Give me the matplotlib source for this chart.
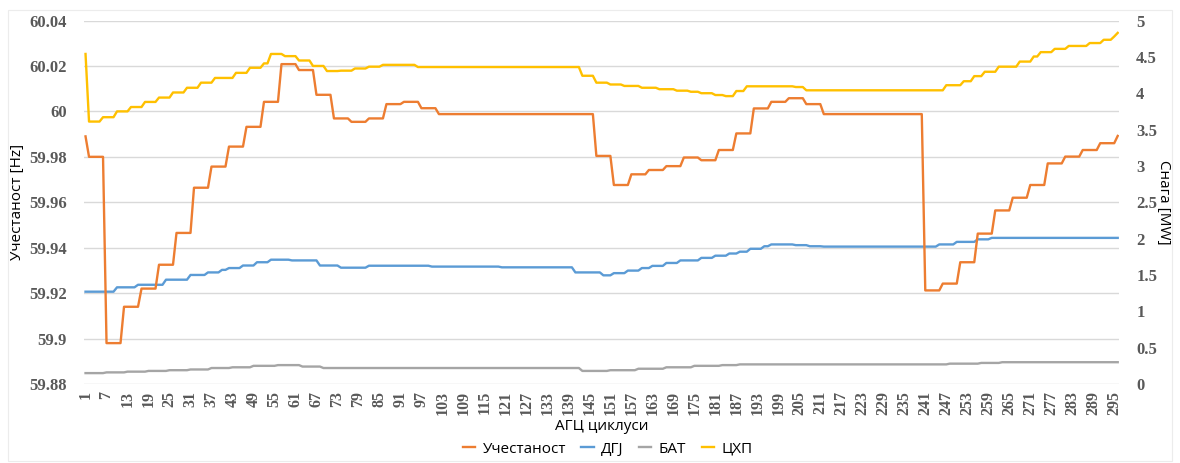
import numpy as np
import matplotlib.pyplot as plt
from matplotlib.patches import Rectangle

n_cycles = 296
cycles = np.arange(1, n_cycles + 1)

# step levels: cycle where a level starts + the level
freq_start = [1, 2, 7, 12, 17, 22, 27, 32, 37, 42, 47, 52, 57, 62, 67, 72, 77, 82,
              87, 92, 97, 102, 147, 152, 157, 162, 167, 172, 177, 182, 187, 192,
              197, 202, 207, 212, 241, 246, 251, 256, 261, 266, 271, 276, 281,
              286, 291, 296]
freq_level = [59.989, 59.980, 59.898, 59.914, 59.922, 59.9325, 59.9465, 59.9664,
              59.9757, 59.9845, 59.9932, 60.0042, 60.0208, 60.0182, 60.0073,
              59.9969, 59.9954, 59.9969, 60.0032, 60.0042, 60.0014, 59.9988,
              59.9804, 59.9676, 59.9723, 59.9742, 59.9759, 59.9797, 59.9785,
              59.983, 59.9903, 60.0013, 60.0042, 60.0058, 60.0032, 59.9988,
              59.9212, 59.9242, 59.9336, 59.9462, 59.9564, 59.962, 59.9676,
              59.9771, 59.9801, 59.983, 59.986, 59.9892]

dgj_start = [1, 10, 16, 24, 31, 36, 40, 42, 46, 50, 54, 60, 68, 74, 82, 100, 120,
             141, 149, 152, 156, 160, 163, 167, 171, 177, 181, 185, 188, 191, 195,
             197, 204, 208, 212, 245, 250, 256, 260]
dgj_level = [1.27, 1.33, 1.365, 1.435, 1.50, 1.535, 1.57, 1.595, 1.63, 1.675, 1.71,
             1.70, 1.63, 1.60, 1.627, 1.615, 1.605, 1.535, 1.495, 1.525, 1.56,
             1.595, 1.625, 1.665, 1.70, 1.735, 1.765, 1.795, 1.82, 1.86, 1.895,
             1.92, 1.91, 1.895, 1.89, 1.92, 1.955, 1.99, 2.01]

bat_start = [1, 7, 13, 19, 25, 31, 37, 43, 49, 56, 63, 69, 143, 151, 159, 167, 175,
             183, 188, 248, 257, 263]
bat_level = [0.15, 0.16, 0.17, 0.18, 0.19, 0.20, 0.22, 0.23, 0.25, 0.26, 0.24, 0.22,
             0.18, 0.19, 0.21, 0.23, 0.25, 0.26, 0.27, 0.28, 0.29, 0.30]

chp_start = [1, 2, 6, 10, 14, 18, 22, 26, 30, 34, 38, 44, 48, 52, 54, 58, 62, 66,
             70, 74, 78, 82, 86, 96, 143, 147, 151, 155, 160, 165, 170, 174, 177,
             181, 184, 187, 190, 204, 207, 247, 252, 255, 258, 262, 268, 272, 274,
             278, 282, 288, 292, 295, 296]
chp_level = [4.54, 3.61, 3.67, 3.75, 3.81, 3.88, 3.94, 4.01, 4.075, 4.145, 4.21,
             4.28, 4.35, 4.41, 4.54, 4.51, 4.45, 4.375, 4.305, 4.31, 4.34, 4.365,
             4.39, 4.36, 4.24, 4.145, 4.12, 4.10, 4.075, 4.055, 4.035, 4.02, 4.0,
             3.975, 3.96, 4.03, 4.095, 4.085, 4.04, 4.11, 4.165, 4.235, 4.295,
             4.365, 4.435, 4.505, 4.565, 4.61, 4.65, 4.69, 4.735, 4.78, 4.83]

left_ticks = [59.88, 59.9, 59.92, 59.94, 59.96, 59.98, 60, 60.02, 60.04]
left_labels = ['59.88', '59.9', '59.92', '59.94', '59.96', '59.98', '60', '60.02', '60.04']
right_ticks = [0, 0.5, 1, 1.5, 2, 2.5, 3, 3.5, 4, 4.5, 5]
right_labels = ['0', '0.5', '1', '1.5', '2', '2.5', '3', '3.5', '4', '4.5', '5']


def steps(starts, levels):
    counts = np.diff(starts + [n_cycles + 1])
    return np.repeat(levels, counts)


freq = steps(freq_start, freq_level)
dgj = steps(dgj_start, dgj_level)
bat = steps(bat_start, bat_level)
chp = steps(chp_start, chp_level)

sans = ['Open Sans', 'DejaVu Sans']
tick_font = dict(family='Liberation Serif', weight='bold', size=12)

fig = plt.figure(figsize=(11.8, 4.63), dpi=100)
fig.patches.append(Rectangle((8 / 1180, 2 / 463), 1164 / 1180, 451 / 463,
                             transform=fig.transFigure, fill=False,
                             edgecolor='#ececec', linewidth=0.8))

ax2 = fig.add_axes([0.0710, 0.1706, 0.8777, 0.7851])
ax = ax2.twinx()
ax.yaxis.tick_left()
ax.yaxis.set_label_position('left')
ax2.yaxis.tick_right()
ax2.yaxis.set_label_position('right')
ax.set_zorder(ax2.get_zorder() + 1)
ax.patch.set_visible(False)

ax.set_ylim(59.88, 60.04)
ax2.set_ylim(0, 5)
ax2.set_xlim(0.5, 296.5)

# horizontal gridlines at the left-axis ticks, drawn behind all series
for t in left_ticks:
    ax2.axhline((t - 59.88) / 0.16 * 5, color='#d9d9d9', lw=1, zorder=0)

l_dgj, = ax2.plot(cycles, dgj, color='#5B9BD5', lw=1.7, label='ДГЈ')
l_bat, = ax2.plot(cycles, bat, color='#A5A5A5', lw=1.7, label='БАТ')
l_chp, = ax2.plot(cycles, chp, color='#FFC000', lw=1.7, label='ЦХП')
l_freq, = ax.plot(cycles, freq, color='#ED7D31', lw=1.7, label='Учестаност')

ax.set_yticks(left_ticks)
ax.set_yticklabels(left_labels, **tick_font, color='#595959')
ax2.set_yticks(right_ticks)
ax2.set_yticklabels(right_labels, **tick_font, color='#595959')
ax2.set_xticks(range(1, 297, 6))
ax2.set_xticklabels([str(c) for c in range(1, 297, 6)], rotation=90,
                    family='Liberation Serif', weight='bold', size=11.5,
                    color='#595959')

ax.tick_params(axis='y', length=0, pad=12)
ax2.tick_params(axis='y', length=0, pad=12)
ax2.tick_params(axis='x', length=0, pad=5)

for a in (ax, ax2):
    for s in a.spines.values():
        s.set_visible(False)

ax.set_ylabel('Учестаност [Hz]', family=sans, fontsize=11, labelpad=3)
ax2.set_ylabel('Снага [MW]', family=sans, fontsize=11, rotation=270, labelpad=10)
ax2.set_xlabel('АГЦ циклуси', family=sans, fontsize=11, labelpad=3)

fig.legend(handles=[l_freq, l_dgj, l_bat, l_chp], loc='center',
           bbox_to_anchor=(0.515, 0.03), ncol=4, frameon=False,
           handlelength=0.8, handletextpad=0.5, columnspacing=1.0,
           borderpad=0.2, prop=dict(family=sans, size=11))

fig.savefig('out.png', dpi=100)
